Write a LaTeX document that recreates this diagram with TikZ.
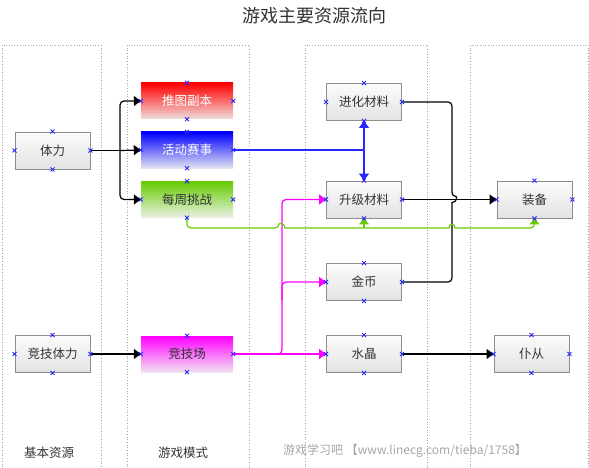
\documentclass[tikz,border=0pt]{standalone}
\usepackage{fontspec}
\setmainfont{Noto Sans CJK SC}
\usetikzlibrary{arrows.meta}
\definecolor{bordergray}{RGB}{140,140,140}
\definecolor{lineblue}{RGB}{40,40,255}
\definecolor{linemag}{RGB}{255,0,255}
\definecolor{linegreen}{RGB}{102,204,0}
\definecolor{txt}{RGB}{50,50,50}
\begin{document}
\begin{tikzpicture}[x=1pt,y=-1pt,
  lane/.style={draw=gray!70, dotted, line width=0.7pt},
  gbox/.style={rectangle, draw=bordergray, line width=0.9pt, top color=gray!3, bottom color=gray!22,
    minimum width=75pt, minimum height=37pt, inner sep=0pt, text=txt, font=\fontsize{12.5}{14}\selectfont},
  cbox/.style={rectangle, minimum width=92pt, minimum height=36pt, inner sep=0pt, font=\fontsize{12.5}{14}\selectfont},
  tip/.style={-{Triangle[length=7pt,width=10pt]}},
  bk/.style={draw=black, line width=1.2pt, rounded corners=4pt},
  bl/.style={draw=lineblue, line width=1.4pt, rounded corners=4pt},
  mg/.style={draw=linemag, line width=1.2pt, rounded corners=4pt},
  gr/.style={draw=linegreen, line width=1.2pt, rounded corners=4pt},
  cpt/.style={draw=blue!85, line width=0.8pt},
  lbl/.style={text=txt, font=\fontsize{12.5}{14}\selectfont}
]
\useasboundingbox (0,0) rectangle (589,468);
% lanes
\draw[lane] (2,45) rectangle (101,475);
\draw[lane] (127,45) rectangle (249,475);
\draw[lane] (305,45) rectangle (427,475);
\draw[lane] (470,45) rectangle (588,475);
% title
\node[text=txt, font=\fontsize{18}{20}\selectfont] (title) at (314,16) {游戏主要资源流向};
% boxes
\node[gbox] (tili) at (52.5,150.5) {体力};
\node[gbox] (jjtili) at (52.5,354) {竞技体力};
\node[cbox, top color=red, bottom color={rgb,255:red,240;green,222;blue,222}, text=white] (tuitu) at (187,101) {推图副本};
\node[cbox, top color=blue, bottom color={rgb,255:red,226;green,226;blue,242}, text=white] (huodong) at (187,150) {活动赛事};
\node[cbox, top color=linegreen, bottom color={rgb,255:red,234;green,240;blue,228}, text=txt] (meizhou) at (187,199.5) {每周挑战};
\node[cbox, top color=magenta, bottom color={rgb,255:red,242;green,226;blue,242}, text=txt] (jjc) at (187,354) {竞技场};
\node[gbox] (jinhua) at (364,102) {进化材料};
\node[gbox] (shengji) at (364,199.5) {升级材料};
\node[gbox] (jinbi) at (364,282) {金币};
\node[gbox] (shuijing) at (364,354) {水晶};
\node[gbox] (zhuangbei) at (534.5,199.5) {装备};
\node[gbox] (pucong) at (531.5,354) {仆从};
% helper coordinates
\coordinate (fork) at (120,150.5);
\coordinate (bj) at (jinhua.south |- huodong.east);
\coordinate (gy) at (0,228);
\coordinate (mtop) at (282,199.5);
\coordinate (mb) at (282,300);
% black connectors
\draw[bk] (tili.east) -- (fork);
\draw[bk,tip] (fork) |- (tuitu.west);
\draw[bk,tip] (fork) -- (huodong.west);
\draw[bk,tip] (fork) |- (meizhou.west);
\draw[bk,tip] (jjtili.east) -- (jjc.west);
\draw[bk,tip] (shuijing.east) -- (pucong.west);
\draw[bk,tip] (shengji.east) -- (zhuangbei.west);
\draw[bk] (jinhua.east) -| (452,196.5) [sharp corners] .. controls (457,196.5) and (457,202.5) .. (452,202.5) [rounded corners=4pt] |- (jinbi.east);
% blue
\draw[bl] (huodong.east) -- (bj);
\draw[bl,tip] (bj) -- (jinhua.south);
\draw[bl,tip] (bj) -- (shengji.north);
% magenta
\draw[mg,tip] (jjc.east) -- (shuijing.west);
\draw[mg,tip] (jjc.east) -| (mtop) -- (shengji.west);
\draw[mg,tip] (mb) |- (jinbi.west);
% green
\draw[gr] (meizhou.south) |- (279,228) [sharp corners] .. controls (279,223) and (285,223) .. (285,228)
  -- (449,228) .. controls (449,223) and (455,223) .. (455,228) [rounded corners=4pt] -| (zhuangbei.south);
\draw[gr,-{Triangle[length=6pt,width=10pt]}] (shengji.south |- gy) -- (shengji.south);
\draw[gr,-{Triangle[length=6pt,width=10pt]}] (zhuangbei.south |- 0,222) -- (zhuangbei.south);
% connection point markers
\foreach \n in {tili,jjtili,tuitu,huodong,meizhou,jjc,jinhua,shengji,jinbi,shuijing,zhuangbei,pucong}{
  \foreach \a in {north,south,east,west}{
    \draw[cpt] (\n.\a) ++(-2,-2) -- ++(4,4) ++(0,-4) -- ++(-4,4);
  }
}
% bottom labels
\node[lbl] (lab1) at (49,453) {基本资源};
\node[lbl] (lab2) at (183,453) {游戏模式};
\node[text=gray!70, font=\fontsize{12}{14}\selectfont] (wm) at (405,451) {游戏学习吧 【www.linecg.com/tieba/1758】};
\end{tikzpicture}
\end{document}
